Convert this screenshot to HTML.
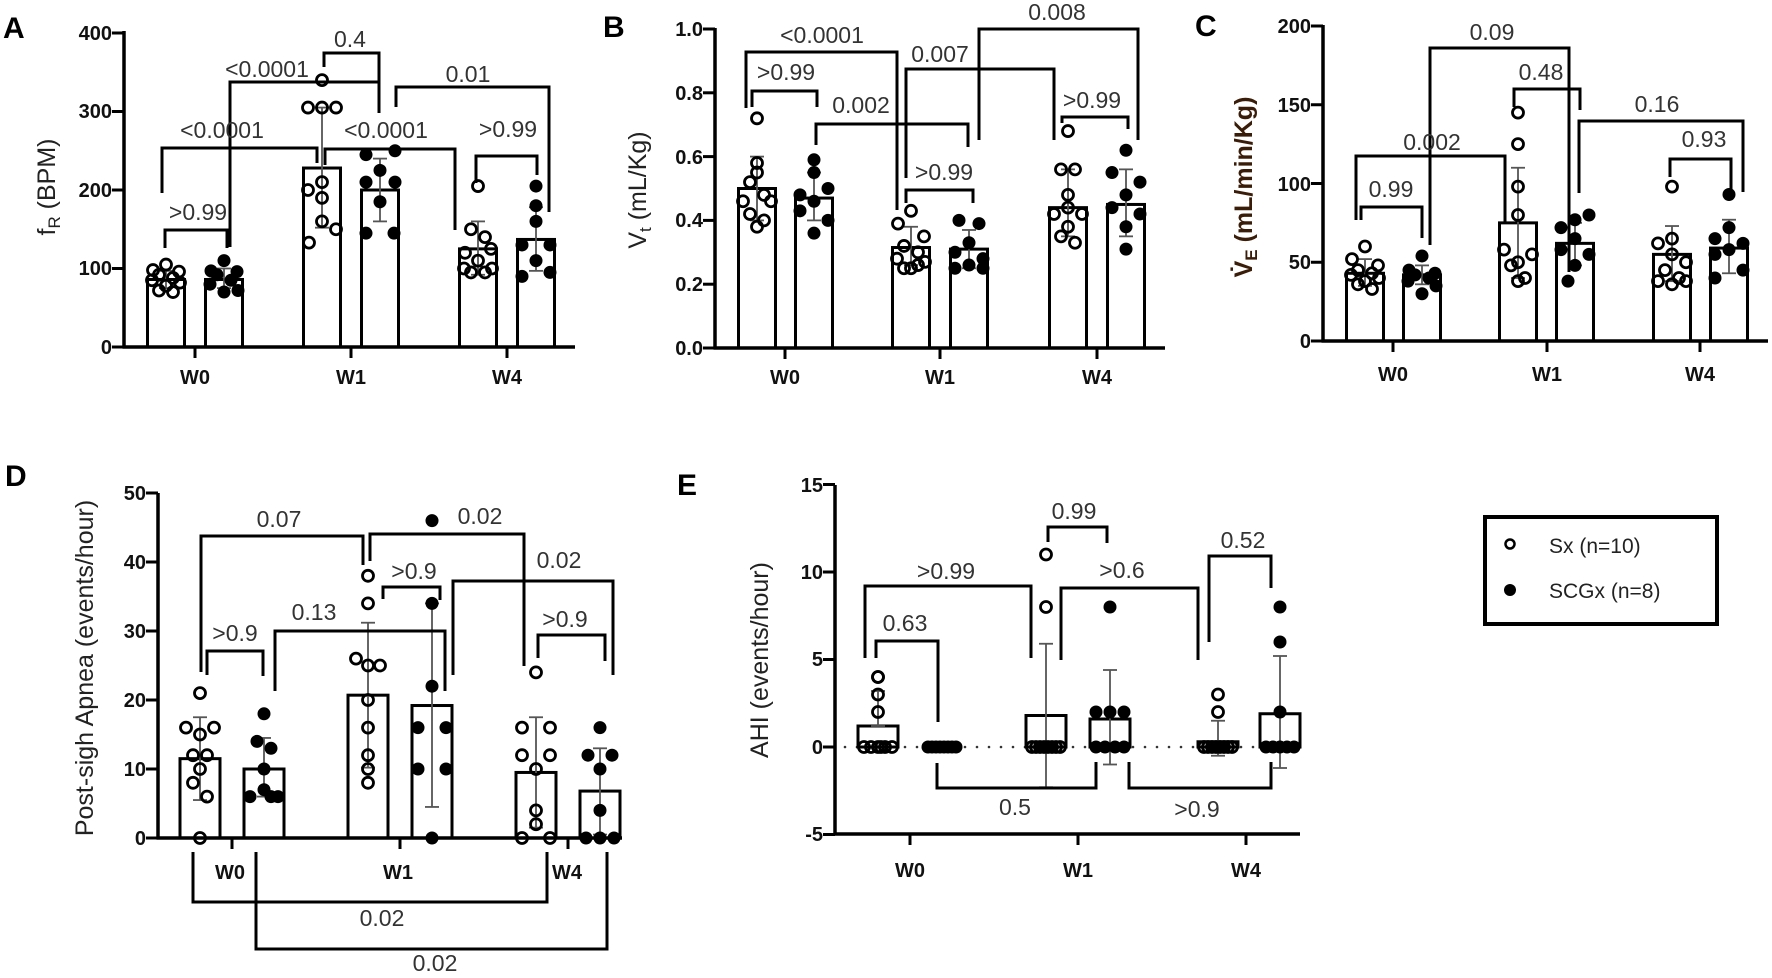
<!DOCTYPE html>
<html><head><meta charset="utf-8"><style>
html,body{margin:0;padding:0;background:#fff;}
svg{display:block;}
.t{font-family:"Liberation Sans",sans-serif;font-weight:bold;font-size:20px;fill:#111;}
.a{font-family:"Liberation Sans",sans-serif;font-size:23px;fill:#333;}
.yl{font-family:"Liberation Sans",sans-serif;font-size:25px;fill:#222;}
.pl{font-family:"Liberation Sans",sans-serif;font-weight:bold;font-size:30px;fill:#000;}
.lg{font-family:"Liberation Sans",sans-serif;font-size:21px;fill:#222;}
</style></head><body>
<svg id="s" width="1772" height="978" viewBox="0 0 1772 978" xmlns="http://www.w3.org/2000/svg">
<g id="g"></g>
<text class="pl" x="3" y="38">A</text>
<text class="pl" x="603" y="37">B</text>
<text class="pl" x="1195" y="36">C</text>
<text class="pl" x="5" y="486">D</text>
<text class="pl" x="677" y="495">E</text>

<g class="t" text-anchor="end">
<text x="112" y="354">0</text><text x="112" y="275">100</text><text x="112" y="197">200</text><text x="112" y="118">300</text><text x="112" y="40">400</text>
</g>
<g class="t" text-anchor="middle"><text x="195" y="384">W0</text><text x="351" y="384">W1</text><text x="507" y="384">W4</text></g>
<text class="yl" transform="translate(55,187) rotate(-90)" text-anchor="middle">f<tspan font-size="17" dy="5">R</tspan><tspan dy="-5"> (BPM)</tspan></text>
<g class="a" text-anchor="middle">
<text x="198" y="220">&gt;0.99</text><text x="222" y="138">&lt;0.0001</text><text x="267" y="77">&lt;0.0001</text>
<text x="350" y="47">0.4</text><text x="386" y="138">&lt;0.0001</text><text x="468" y="82">0.01</text><text x="508" y="137">&gt;0.99</text>
</g>

<g class="t" text-anchor="end">
<text x="703" y="355">0.0</text><text x="703" y="291">0.2</text><text x="703" y="227">0.4</text><text x="703" y="164">0.6</text><text x="703" y="100">0.8</text><text x="703" y="36">1.0</text>
</g>
<g class="t" text-anchor="middle"><text x="785" y="384">W0</text><text x="940" y="384">W1</text><text x="1097" y="384">W4</text></g>
<text class="yl" transform="translate(646,190) rotate(-90)" text-anchor="middle">V<tspan font-size="17" dy="5">t</tspan><tspan dy="-5"> (mL/Kg)</tspan></text>
<g class="a" text-anchor="middle">
<text x="822" y="43">&lt;0.0001</text><text x="786" y="80">&gt;0.99</text><text x="861" y="113">0.002</text>
<text x="940" y="62">0.007</text><text x="1057" y="20">0.008</text><text x="944" y="180">&gt;0.99</text><text x="1092" y="108">&gt;0.99</text>
</g>

<g class="t" text-anchor="end">
<text x="1311" y="348">0</text><text x="1311" y="269">50</text><text x="1311" y="191">100</text><text x="1311" y="112">150</text><text x="1311" y="33">200</text>
</g>
<g class="t" text-anchor="middle"><text x="1393" y="381">W0</text><text x="1547" y="381">W1</text><text x="1700" y="381">W4</text></g>
<text class="yl" transform="translate(1252,187) rotate(-90)" text-anchor="middle" style="font-weight:bold;fill:#3a1d08">V̇<tspan font-size="17" dy="5">E</tspan><tspan dy="-5" style="font-weight:bold"> (mL/min/Kg)</tspan></text>
<g class="a" text-anchor="middle">
<text x="1391" y="197">0.99</text><text x="1432" y="150">0.002</text><text x="1492" y="40">0.09</text>
<text x="1541" y="80">0.48</text><text x="1657" y="112">0.16</text><text x="1704" y="147">0.93</text>
</g>

<g class="t" text-anchor="end">
<text x="146" y="845">0</text><text x="146" y="776">10</text><text x="146" y="707">20</text><text x="146" y="638">30</text><text x="146" y="569">40</text><text x="146" y="500">50</text>
</g>
<g class="t" text-anchor="middle"><text x="230" y="879">W0</text><text x="398" y="879">W1</text><text x="567" y="879">W4</text></g>
<text class="yl" transform="translate(93,668) rotate(-90)" text-anchor="middle">Post-sigh Apnea (events/hour)</text>
<g class="a" text-anchor="middle">
<text x="235" y="641">&gt;0.9</text><text x="279" y="527">0.07</text><text x="480" y="524">0.02</text><text x="314" y="620">0.13</text>
<text x="414" y="579">&gt;0.9</text><text x="559" y="568">0.02</text><text x="565" y="627">&gt;0.9</text>
<text x="382" y="926">0.02</text><text x="435" y="971">0.02</text>
</g>

<g class="t" text-anchor="end">
<text x="823" y="841">-5</text><text x="823" y="754">0</text><text x="823" y="666">5</text><text x="823" y="579">10</text><text x="823" y="492">15</text>
</g>
<g class="t" text-anchor="middle"><text x="910" y="877">W0</text><text x="1078" y="877">W1</text><text x="1246" y="877">W4</text></g>
<text class="yl" transform="translate(768,660) rotate(-90)" text-anchor="middle">AHI (events/hour)</text>
<g class="a" text-anchor="middle">
<text x="905" y="631">0.63</text><text x="946" y="579">&gt;0.99</text><text x="1074" y="519">0.99</text>
<text x="1122" y="578">&gt;0.6</text><text x="1243" y="548">0.52</text><text x="1015" y="815">0.5</text><text x="1197" y="817">&gt;0.9</text>
</g>

<rect x="1485" y="517" width="232" height="107" fill="none" stroke="#000" stroke-width="4"/>
<circle cx="1510" cy="544" r="4.5" fill="#fff" stroke="#000" stroke-width="2.5"/>
<circle cx="1510" cy="590" r="6" fill="#000"/>
<text class="lg" x="1549" y="553">Sx (n=10)</text>
<text class="lg" x="1549" y="598">SCGx (n=8)</text>
</svg>
<script>
var NS="http://www.w3.org/2000/svg",G=document.getElementById("g");
function el(n,a){var e=document.createElementNS(NS,n);for(var k in a)e.setAttribute(k,a[k]);G.appendChild(e);return e;}
function line(x1,y1,x2,y2,w,c){el("line",{x1:x1,y1:y1,x2:x2,y2:y2,stroke:c||"#000","stroke-width":w||3});}
function br(x1,x2,top,yl,yr){el("path",{d:"M"+x1+" "+yl+"V"+top+"H"+x2+"V"+yr,fill:"none",stroke:"#000","stroke-width":3});}
var OFF=[0,-13,13,-7,7,-14,14,0,-7,7];
function panel(p){
  var Y=function(v){return p.y0-(v-(p.base||0))*p.s;};
  p.bars.forEach(function(b,i){
    var filled=i%2==1, x=b.c-p.w/2, yt=Y(b.m), yb=p.yb;
    var h=Math.abs(yb-yt);
    el("rect",{x:x,y:Math.min(yt,yb),width:p.w,height:h,fill:"#fff",stroke:"#000","stroke-width":3});
    line(b.c,Y(b.lo),b.c,Y(b.hi),1.8,"#555");
    line(b.c-7,Y(b.hi),b.c+7,Y(b.hi),1.8,"#555");
    line(b.c-7,Y(b.lo),b.c+7,Y(b.lo),1.8,"#555");
    b.p.forEach(function(v,j){
      var ox=b.o?b.o[j]:OFF[j%10];
      if(filled) el("circle",{cx:b.c+ox,cy:Y(v),r:6.5,fill:"#000"});
      else el("circle",{cx:b.c+ox,cy:Y(v),r:5.5,fill:"none",stroke:"#000","stroke-width":2.8});
    });
  });
  line(p.ax,p.yTop,p.ax,p.yBot,3.5);
  line(p.ax-1.5,p.xy,p.xEnd,p.xy,3.5);
  p.yt.forEach(function(v){line(p.ax-12,Y(v),p.ax,Y(v),3);});
  p.xt.forEach(function(x){line(x,p.xy,x,p.xy+11,3);});
  p.br.forEach(function(b){br.apply(null,b);});
}
panel({ax:124,y0:347,s:0.785,yb:347,w:37,yTop:31,yBot:347,xy:347,xEnd:575,yt:[0,100,200,300,400],xt:[195,351,507],
 bars:[{c:166,m:86,lo:75,hi:97,p:[105,98,96,92,88,85,82,78,72,70]},
 {c:224,m:86,lo:75,hi:100,p:[110,97,96,92,85,80,72,70]},
 {c:322,m:228,lo:152,hi:305,p:[340,305,305,305,210,200,190,160,150,133],o:[0,-14,14,0,0,-14,0,0,14,-13]},
 {c:380,m:200,lo:160,hi:240,p:[250,245,225,210,210,185,145,145],o:[15,-14,0,-14,15,0,-14,14]},
 {c:478,m:125,lo:92,hi:160,p:[205,150,140,125,120,110,100,95,95,100],o:[0,-7,7,13,-13,0,-14,-7,7,14]},
 {c:536,m:137,lo:97,hi:178,p:[205,180,160,130,130,110,95,90],o:[0,0,0,-14,14,0,14,-14]}],
 br:[[165,227,230,248,248],[162,317,148,193,163],[230,379,82,247,113],[324,379,53,67,113],[325,455,149,165,230],[396,549,87,107,212],[476,537,156,183,175]]});
panel({ax:715,y0:348,s:319,yb:348,w:37,yTop:28,yBot:348,xy:348,xEnd:1165,yt:[0,0.2,0.4,0.6,0.8,1.0],xt:[785,940,1097],
 bars:[{c:757,m:0.50,lo:0.40,hi:0.60,p:[0.72,0.58,0.55,0.52,0.48,0.46,0.46,0.42,0.40,0.38],o:[0,0,0,-7,7,-14,14,-7,7,0]},
 {c:814,m:0.47,lo:0.40,hi:0.55,p:[0.59,0.55,0.50,0.48,0.46,0.43,0.40,0.36],o:[0,0,14,-14,0,-14,14,0]},
 {c:911,m:0.315,lo:0.26,hi:0.38,p:[0.43,0.39,0.35,0.32,0.30,0.28,0.27,0.25,0.25,0.26]},
 {c:969,m:0.31,lo:0.25,hi:0.37,p:[0.40,0.39,0.33,0.30,0.28,0.26,0.25,0.25],o:[-10,10,0,-14,14,0,-14,14]},
 {c:1068,m:0.44,lo:0.35,hi:0.56,p:[0.68,0.56,0.56,0.48,0.44,0.42,0.42,0.38,0.35,0.33],o:[0,-7,7,0,0,-14,14,0,-7,7]},
 {c:1126,m:0.45,lo:0.35,hi:0.56,p:[0.62,0.55,0.52,0.48,0.44,0.42,0.38,0.31],o:[0,-14,14,0,-14,14,0,0]}],
 br:[[746,897,52,108,210],[752,817,91,107,107],[816,968,124,145,147],[906,1054,69,178,140],[979,1138,29,140,140],[906,973,190,203,203],[1062,1128,117,123,129]]});
panel({ax:1323,y0:341,s:1.575,yb:341,w:37,yTop:25,yBot:341,xy:341,xEnd:1768,yt:[0,50,100,150,200],xt:[1393,1547,1700],
 bars:[{c:1365,m:43,lo:35,hi:52,p:[60,52,48,45,43,42,40,38,36,33]},
 {c:1422,m:42,lo:36,hi:48,p:[54,45,43,42,40,38,35,30]},
 {c:1518,m:75,lo:40,hi:110,p:[145,125,98,80,58,55,50,48,40,38],o:[0,0,0,0,-14,14,0,-7,7,0]},
 {c:1575,m:62,lo:48,hi:75,p:[80,77,72,65,58,55,48,38],o:[14,0,-14,0,-14,14,0,-7]},
 {c:1672,m:55,lo:38,hi:73,p:[98,65,62,55,50,45,40,38,38,36],o:[0,0,-14,0,14,-7,7,-14,14,0]},
 {c:1729,m:59,lo:43,hi:77,p:[93,72,65,62,58,55,45,40],o:[0,0,-14,14,0,-14,14,-14]}],
 br:[[1361,1422,207,220,238],[1356,1505,156,220,222],[1430,1569,48,245,272],[1514,1580,89,107,110],[1579,1743,121,193,192],[1670,1731,159,177,191]]});
panel({ax:158,y0:838,s:6.9,yb:838,w:40,yTop:493,yBot:838,xy:838,xEnd:622,yt:[0,10,20,30,40,50],xt:[232,400,568],
 bars:[{c:200,m:11.5,lo:5.5,hi:17.5,p:[21,16,16,15,12,12,10,8,6,0],o:[0,-14,14,0,-7,7,0,-7,7,0]},
 {c:264,m:10,lo:6,hi:14.5,p:[18,14,13,10,7,6,6,6],o:[0,-7,7,0,0,-14,14,7]},
 {c:368,m:20.7,lo:10.2,hi:31.2,p:[38,34,26,25,25,20,16,12,10,8],o:[0,0,-12,0,12,0,0,0,0,0]},
 {c:432,m:19.2,lo:4.5,hi:34,p:[46,34,22,16,16,10,10,0],o:[0,0,0,-14,14,-14,14,0]},
 {c:536,m:9.5,lo:1.5,hi:17.5,p:[24,16,16,12,12,10,4,2,0,0],o:[0,-14,14,-14,14,0,0,0,-14,14]},
 {c:600,m:6.8,lo:0.5,hi:13,p:[16,12,12,10,4,0,0,0],o:[0,-12,12,0,0,-14,0,14]}],
 br:[[207,263,651,675,676],[201,363,536,672,565],[370,524,534,561,666],[275,445,631,691,691],[383,440,587,599,600],[453,613,581,675,675],[538,605,635,658,661],
     [193,547,902,852,852],[256,607,949,852,852]]});
(function(){
 for(var x=845;x<1300;x+=12) el("circle",{cx:x,cy:747,r:1.3,fill:"#333"});
})();
panel({ax:835,y0:747,s:17.5,yb:747,w:40,yTop:485,yBot:834,xy:834,xEnd:1300,yt:[-5,0,5,10,15],xt:[910,1078,1246],
 bars:[{c:878,m:1.2,lo:1.2,hi:3.2,p:[4,4,3,2,0,0,0,0,0,0],o:[0,0,0,0,-14,-7,0,7,14,3]},
 {c:942,m:0,lo:0,hi:0,p:[0,0,0,0,0,0,0,0],o:[-14,-10,-6,-2,2,6,10,14]},
 {c:1046,m:1.8,lo:-2.3,hi:5.9,p:[11,8,0,0,0,0,0,0,0,0],o:[0,0,-14,-10,-6,-2,2,6,10,14]},
 {c:1110,m:1.6,lo:-1.0,hi:4.4,p:[8,2,2,2,0,0,0,0],o:[0,-14,0,14,-14,-5,5,14]},
 {c:1218,m:0.3,lo:-0.5,hi:1.5,p:[3,2,0,0,0,0,0,0,0,0],o:[0,0,-14,-10,-6,-2,2,6,10,14]},
 {c:1280,m:1.9,lo:-1.2,hi:5.2,p:[8,6,2,0,0,0,0,0],o:[0,0,0,-14,-7,0,7,14]}],
 br:[[876,938,641,658,722],[865,1031,586,658,658],[1048,1107,527,542,543],[1061,1198,588,660,660],[1209,1271,556,642,588],
     [937,1096,788,763,762],[1129,1271,788,762,762]]});
</script>
</body></html>
